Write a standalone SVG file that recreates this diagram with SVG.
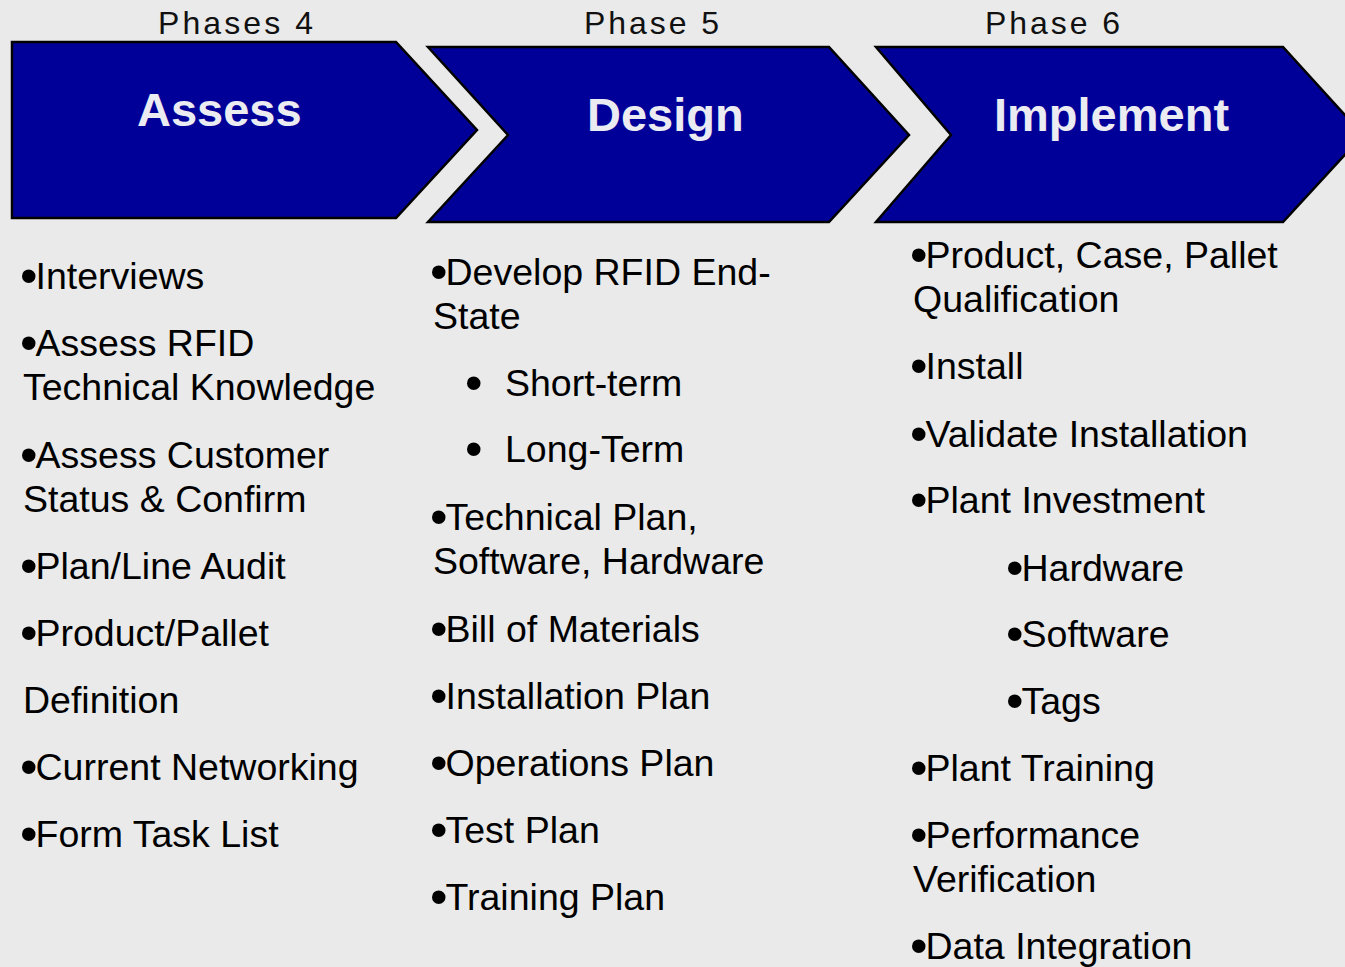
<svg xmlns="http://www.w3.org/2000/svg" width="1345" height="967" viewBox="0 0 1345 967">
<style>
.bg{fill:#eaeaea}
.chev{fill:#000099;stroke:#000;stroke-width:2.5;stroke-linejoin:miter}
.phase{font-family:"Liberation Sans",Arial,sans-serif;font-size:32px;fill:#111}
.title{font-family:"Liberation Sans",Arial,sans-serif;font-size:47px;font-weight:bold;fill:#ebebf2}
.body{font-family:"Liberation Sans",Arial,sans-serif;font-size:37.5px;fill:#000}
.bl{font-size:50px}
</style>
<rect class="bg" x="0" y="0" width="1345" height="967"/>
<g id="assess">
<text class="phase" x="158" y="34" textLength="155" lengthAdjust="spacing">Phases 4</text>
<polygon class="chev" points="12,42 396,42 477,130 396,218 12,218"/>
<text class="title" x="137" y="126">Assess</text>
</g>
<g id="design">
<text class="phase" x="584" y="34" textLength="135" lengthAdjust="spacing">Phase 5</text>
<polygon class="chev" points="428,47 829,47 909,135 829,222 428,222 508,135"/>
<text class="title" x="587" y="131">Design</text>
</g>
<g id="implement">
<text class="phase" x="985" y="34" textLength="135" lengthAdjust="spacing">Phase 6</text>
<polygon class="chev" points="876,47 1283,47 1363,135 1283,222 876,222 951,135"/>
<text class="title" x="994" y="131">Implement</text>
</g>
<g id="assess-list">
<text class="body" x="20" y="289"><tspan class="bl" dy="4">•</tspan><tspan dy="-4" dx="-2">Interviews</tspan></text>
<text class="body" x="20" y="356"><tspan class="bl" dy="4">•</tspan><tspan dy="-4" dx="-2">Assess RFID</tspan></text>
<text class="body" x="23" y="400">Technical Knowledge</text>
<text class="body" x="20" y="468"><tspan class="bl" dy="4">•</tspan><tspan dy="-4" dx="-2">Assess Customer</tspan></text>
<text class="body" x="23" y="512">Status &amp; Confirm</text>
<text class="body" x="20" y="579"><tspan class="bl" dy="4">•</tspan><tspan dy="-4" dx="-2">Plan/Line Audit</tspan></text>
<text class="body" x="20" y="646"><tspan class="bl" dy="4">•</tspan><tspan dy="-4" dx="-2">Product/Pallet</tspan></text>
<text class="body" x="23" y="713">Definition</text>
<text class="body" x="20" y="780"><tspan class="bl" dy="4">•</tspan><tspan dy="-4" dx="-2">Current Networking</tspan></text>
<text class="body" x="20" y="847"><tspan class="bl" dy="4">•</tspan><tspan dy="-4" dx="-2">Form Task List</tspan></text>
</g>
<g id="design-list">
<text class="body" x="430" y="285"><tspan class="bl" dy="4">•</tspan><tspan dy="-4" dx="-2">Develop RFID End-</tspan></text>
<text class="body" x="433" y="329">State</text>
<text class="body" x="465" y="396"><tspan class="bl" dy="4">•</tspan></text>
<text class="body" x="505" y="396">Short-term</text>
<text class="body" x="465" y="462"><tspan class="bl" dy="4">•</tspan></text>
<text class="body" x="505" y="462">Long-Term</text>
<text class="body" x="430" y="530"><tspan class="bl" dy="4">•</tspan><tspan dy="-4" dx="-2">Technical Plan,</tspan></text>
<text class="body" x="433" y="574">Software, Hardware</text>
<text class="body" x="430" y="642"><tspan class="bl" dy="4">•</tspan><tspan dy="-4" dx="-2">Bill of Materials</tspan></text>
<text class="body" x="430" y="709"><tspan class="bl" dy="4">•</tspan><tspan dy="-4" dx="-2">Installation Plan</tspan></text>
<text class="body" x="430" y="776"><tspan class="bl" dy="4">•</tspan><tspan dy="-4" dx="-2">Operations Plan</tspan></text>
<text class="body" x="430" y="843"><tspan class="bl" dy="4">•</tspan><tspan dy="-4" dx="-2">Test Plan</tspan></text>
<text class="body" x="430" y="910"><tspan class="bl" dy="4">•</tspan><tspan dy="-4" dx="-2">Training Plan</tspan></text>
</g>
<g id="implement-list">
<text class="body" x="910" y="268"><tspan class="bl" dy="4">•</tspan><tspan dy="-4" dx="-2">Product, Case, Pallet</tspan></text>
<text class="body" x="913" y="312">Qualification</text>
<text class="body" x="910" y="379"><tspan class="bl" dy="4">•</tspan><tspan dy="-4" dx="-2">Install</tspan></text>
<text class="body" x="910" y="447"><tspan class="bl" dy="4">•</tspan><tspan dy="-4" dx="-2">Validate Installation</tspan></text>
<text class="body" x="910" y="513"><tspan class="bl" dy="4">•</tspan><tspan dy="-4" dx="-2">Plant Investment</tspan></text>
<text class="body" x="1006" y="581"><tspan class="bl" dy="4">•</tspan><tspan dy="-4" dx="-2">Hardware</tspan></text>
<text class="body" x="1006" y="647"><tspan class="bl" dy="4">•</tspan><tspan dy="-4" dx="-2">Software</tspan></text>
<text class="body" x="1006" y="714"><tspan class="bl" dy="4">•</tspan><tspan dy="-4" dx="-2">Tags</tspan></text>
<text class="body" x="910" y="781"><tspan class="bl" dy="4">•</tspan><tspan dy="-4" dx="-2">Plant Training</tspan></text>
<text class="body" x="910" y="848"><tspan class="bl" dy="4">•</tspan><tspan dy="-4" dx="-2">Performance</tspan></text>
<text class="body" x="913" y="892">Verification</text>
<text class="body" x="910" y="959"><tspan class="bl" dy="4">•</tspan><tspan dy="-4" dx="-2">Data Integration</tspan></text>
</g>
<g id="connectors"></g>
</svg>
